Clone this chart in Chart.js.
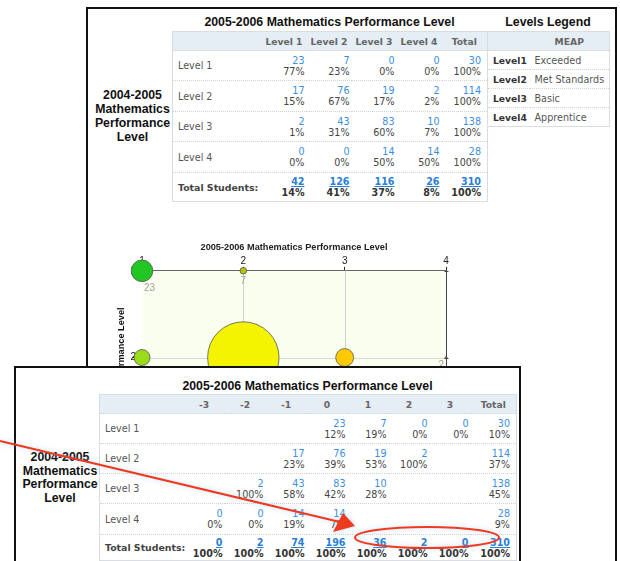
<!DOCTYPE html>
<html lang="en">
<head>
<meta charset="UTF-8">
<title>2005-2006 Mathematics Performance Level</title>
<script src="https://cdn.jsdelivr.net/npm/chart.js"></script>
<style>
  html, body { margin: 0; padding: 0; background: #fff; }
  body { position: relative; width: 620px; height: 561px; overflow: hidden; font-family: "DejaVu Sans", Verdana, sans-serif; }
  .abs { position: absolute; }
  .panel { position: absolute; box-sizing: border-box; border: 2px solid #111; background: #fff; }
  #back { left: 86px; top: 7px; width: 531px; height: 700px; z-index: 1; }
  #front { left: 14px; top: 366px; width: 507px; height: 300px; z-index: 3; }
  .lo { z-index: 2; }
  .hi { z-index: 4; }
  .ttl { font: bold 12.3px "Liberation Sans", Arial, sans-serif; color: #111; text-align: center; line-height: 16px; }
  .side { font: bold 12.3px "Liberation Sans", Arial, sans-serif; color: #111; text-align: center; }
  table.t { position: absolute; border-collapse: collapse; table-layout: fixed; border: 1px solid #d8dde3; font-size: 9.6px; color: #444; background: #fff; }
  table.t th { background: #e5edf5; color: #666; font-weight: bold; font-size: 9.2px; padding: 0; text-align: center; }
  table.t td { padding: 0 2px 0 0; text-align: right; line-height: 11px; border-top: 1px dotted #d2d2d2; vertical-align: middle; white-space: nowrap; }
  table.t td.lbl { text-align: left; padding-left: 5px; color: #555; }
  table.t td.tot { font-weight: bold; color: #444; font-size: 9.4px; }
  table.t td.last { padding-right: 6px; }
  .n { color: #3a8fe2; }
  .u { color: #2a7fd6; text-decoration: underline; font-weight: bold; }
  .b { font-weight: bold; color: #333; }
  table.t td.key { font-weight: bold; color: #333; font-size: 9.2px; }
  table.t td.meap { text-align: left; color: #555; padding-left: 5px; }
  #chartBox { position: absolute; left: 100px; top: 231px; width: 386px; height: 340px; z-index: 2; }
  #arrow { position: absolute; left: 0; top: 0; z-index: 5; }
</style>
</head>
<body>
<div class="panel" id="back"></div>
<div class="panel" id="front"></div>

<div class="abs ttl lo" style="left:172px;top:14px;width:315px;">2005-2006 Mathematics Performance Level</div>
<div class="abs side lo" style="left:92px;top:88px;width:81px;line-height:14px;">2004-2005<br>Mathematics<br>Performance<br>Level</div>
<table class="t lo" id="topTable" style="left:172px;top:31px;width:315px;"></table>

<div class="abs ttl lo" style="left:487px;top:14px;width:122px;">Levels Legend</div>
<table class="t lo" id="legendTable" style="left:487px;top:31px;width:122px;"></table>

<div id="chartBox"><canvas id="bubbleChart"></canvas></div>

<div class="abs ttl hi" style="left:99px;top:378px;width:417px;">2005-2006 Mathematics Performance Level</div>
<div class="abs side hi" style="left:19px;top:451px;width:82px;line-height:13.5px;">2004-2005<br>Mathematics<br>Performance<br>Level</div>
<table class="t hi" id="changeTable" style="left:99px;top:394px;width:417px;"></table>

<svg id="arrow" width="620" height="561">
  <g style="filter: drop-shadow(0 0 3px rgba(140,185,235,0.55));" fill="none" stroke="#ee3a1f" stroke-width="2">
    <line x1="0" y1="441" x2="340" y2="522"/>
    <polygon points="355,526 333,532 343,513" fill="#ee3a1f" stroke="none"/>
    <ellipse cx="427" cy="537.5" rx="72" ry="10.5"/>
  </g>
</svg>

<script>
// 2004-2005 level (rows) vs 2005-2006 level (columns)
const levelNames = ['Level 1', 'Level 2', 'Level 3', 'Level 4'];
const row1Counts = [23, 7, 0, 0];
const row2Counts = [17, 76, 19, 2];
const row3Counts = [2, 43, 83, 10];
const row4Counts = [0, 0, 14, 14];
const row1Pct = [77, 23, 0, 0];
const row2Pct = [15, 67, 17, 2];
const row3Pct = [1, 31, 60, 7];
const row4Pct = [0, 0, 50, 50];
const rowTotals = [30, 114, 138, 28];
const colTotals = [42, 126, 116, 26];
const colTotalPct = [14, 41, 37, 8];
const grandTotal = 310;

// legend
const legendKeys = ['Level1', 'Level2', 'Level3', 'Level4'];
const meapNames = ['Exceeded', 'Met Standards', 'Basic', 'Apprentice'];

// change in level table
const changeCols = ['-3', '-2', '-1', '0', '1', '2', '3'];
const chg1Counts = [null, null, null, 23, 7, 0, 0];
const chg2Counts = [null, null, 17, 76, 19, 2, null];
const chg3Counts = [null, 2, 43, 83, 10, null, null];
const chg4Counts = [0, 0, 14, 14, null, null, null];
const chg1Pct = [null, null, null, 12, 19, 0, 0];
const chg2Pct = [null, null, 23, 39, 53, 100, null];
const chg3Pct = [null, 100, 58, 42, 28, null, null];
const chg4Pct = [0, 0, 19, 7, null, null, null];
const chgRowTotals = [30, 114, 138, 28];
const chgRowPct = [10, 37, 45, 9];
const chgColTotals = [0, 2, 74, 196, 36, 2, 0];
const chgColPct = [100, 100, 100, 100, 100, 100, 100];

const cell = (n, p, cls) =>
    n === null ? `<td class="${cls || ''}"></td>`
               : `<td class="${cls || ''}"><span class="n">${n}</span><br>${p}%</td>`;
const totCell = (n, p, cls) =>
    `<td class="${cls || ''}"><span class="u">${n}</span><br><span class="b">${p}%</span></td>`;

const buildTable = (el, widths, heads, counts, pcts, rTot, rPct, cTot, cPct, rowHeights) => {
    let html = '<colgroup>' + widths.map(w => `<col style="width:${w}px">`).join('') + '</colgroup>';
    html += `<tr style="height:${rowHeights[0]}px"><th></th>` + heads.map(h => `<th>${h}</th>`).join('') + '<th>Total</th></tr>';
    counts.forEach((row, i) => {
        html += `<tr style="height:${rowHeights[i + 1]}px"><td class="lbl">${levelNames[i]}</td>`;
        html += row.map((n, j) => cell(n, pcts[i][j])).join('');
        html += cell(rTot[i], rPct[i], 'last') + '</tr>';
    });
    html += `<tr style="height:${rowHeights[5]}px"><td class="lbl tot">Total Students:</td>`;
    html += cTot.map((n, j) => totCell(n, cPct[j])).join('');
    html += totCell(grandTotal, 100, 'last') + '</tr>';
    document.getElementById(el).innerHTML = html;
};

const topCounts = [row1Counts, row2Counts, row3Counts, row4Counts];
const topPcts = [row1Pct, row2Pct, row3Pct, row4Pct];
buildTable('topTable', [89, 45, 45, 45, 45, 46], ['Level 1', 'Level 2', 'Level 3', 'Level 4'],
    topCounts, topPcts, rowTotals, [100, 100, 100, 100], colTotals, colTotalPct,
    [19, 30, 31, 30, 31, 29]);

buildTable('changeTable', [84, 41, 41, 41, 41, 41, 41, 41, 46], changeCols,
    [chg1Counts, chg2Counts, chg3Counts, chg4Counts], [chg1Pct, chg2Pct, chg3Pct, chg4Pct],
    chgRowTotals, chgRowPct, chgColTotals, chgColPct,
    [19, 30, 30, 30, 31, 26]);

let legendHtml = '<colgroup><col style="width:42px"><col style="width:80px"></colgroup>';
legendHtml += '<tr style="height:19px"><th></th><th>MEAP</th></tr>';
legendKeys.forEach((k, i) => {
    legendHtml += `<tr style="height:19px"><td class="lbl key">${k}</td><td class="meap">${meapNames[i]}</td></tr>`;
});
document.getElementById('legendTable').innerHTML = legendHtml;

// bubble chart: x = 2005-2006 level, y = 2004-2005 level, radius grows with students
const radiusPerStudent = 0.47;
const bubbleFill = [
    ['#22c622', '#b6c400', '#ffb000', '#ff8000'],
    ['#9bdc1a', '#f4f400', '#ffcb00', '#ff9a00'],
    ['#7fcc00', '#d6ec00', '#ffb400', '#ff8400'],
    ['#66bb00', '#c8e000', '#ff7400', '#ff3c00']
];

const points = [];
topCounts.forEach((row, yi) => {
    row.forEach((n, xi) => {
        if (n > 0) points.push({ x: xi + 1, y: yi + 1, r: n * radiusPerStudent, n: n });
    });
});

const plotBackdrop = {
    id: 'plotBackdrop',
    beforeDatasetsDraw(chart) {
        const { ctx, chartArea: a, scales: { x, y } } = chart;
        ctx.save();
        ctx.fillStyle = '#f9feee';
        ctx.fillRect(a.left, a.top, a.width, a.height);
        ctx.lineWidth = 1;
        ctx.strokeStyle = '#cfcfcf';
        x.ticks.forEach(t => {
            const px = Math.round(x.getPixelForValue(t.value)) + 0.5;
            if (px > a.left + 2 && px < a.right - 2) {
                ctx.beginPath(); ctx.moveTo(px, a.top); ctx.lineTo(px, a.bottom); ctx.stroke();
            }
        });
        ctx.strokeStyle = '#d8d8d8';
        y.ticks.forEach(t => {
            const py = Math.round(y.getPixelForValue(t.value)) + 0.5;
            if (py > a.top + 2 && py < a.bottom - 2) {
                ctx.beginPath(); ctx.moveTo(a.left, py); ctx.lineTo(a.right, py); ctx.stroke();
            }
        });
        ctx.restore();
    },
    afterDatasetsDraw(chart) {
        const { ctx, chartArea: a, scales: { y } } = chart;
        ctx.save();
        // right edge with small ticks
        ctx.strokeStyle = '#444';
        ctx.lineWidth = 1;
        const rx = Math.round(a.right) + 0.5;
        ctx.beginPath(); ctx.moveTo(rx, a.top); ctx.lineTo(rx, a.bottom); ctx.stroke();
        y.ticks.forEach(t => {
            const py = Math.round(y.getPixelForValue(t.value)) + 0.5;
            ctx.beginPath(); ctx.moveTo(rx - 2, py); ctx.lineTo(rx + 2, py); ctx.stroke();
        });
        // student counts under each bubble
        ctx.font = '10px "Liberation Sans", Arial, sans-serif';
        ctx.fillStyle = '#a0a0a0';
        ctx.textBaseline = 'middle';
        chart.getDatasetMeta(0).data.forEach((el, i) => {
            const p = points[i];
            let tx = el.x;
            ctx.textAlign = 'center';
            if (p.x === 1) { tx = el.x + 2; ctx.textAlign = 'left'; }
            if (p.x === 4) { tx = el.x - 2; ctx.textAlign = 'right'; }
            ctx.fillText(p.n, tx, el.y + p.r + 7);
        });
        ctx.restore();
    }
};

new Chart(document.getElementById('bubbleChart'), {
    type: 'bubble',
    data: {
        datasets: [{
            data: points,
            clip: false,
            backgroundColor: ctx => ctx.raw ? bubbleFill[ctx.raw.y - 1][ctx.raw.x - 1] : '#ccc',
            borderColor: '#555',
            borderWidth: 0.8
        }]
    },
    options: {
        responsive: true,
        maintainAspectRatio: false,
        animation: false,
        layout: { padding: { left: 0, right: 40, top: 0, bottom: 40 } },
        plugins: {
            legend: { display: false },
            tooltip: { enabled: false },
            title: {
                display: true,
                fullSize: false,
                text: '2005-2006 Mathematics Performance Level',
                color: '#222',
                font: { family: '"Liberation Sans", Arial, sans-serif', size: 9.2, weight: 'bold' },
                padding: { top: 10.5, bottom: 0 }
            }
        },
        scales: {
            x: {
                type: 'linear',
                position: 'top',
                min: 1,
                max: 4,
                z: 1,
                afterFit: s => { s.height = 17.5; },
                ticks: { stepSize: 1, padding: 0, color: '#222', font: { family: '"Liberation Sans", Arial, sans-serif', size: 10 } },
                grid: { drawOnChartArea: false, drawTicks: true, tickLength: 4, color: '#333' },
                border: { color: '#444' }
            },
            y: {
                type: 'linear',
                position: 'left',
                reverse: true,
                min: 1,
                max: 4,
                z: 1,
                afterFit: s => { s.width = 42; },
                ticks: { stepSize: 1, padding: -4, color: '#222', font: { family: '"Liberation Sans", Arial, sans-serif', size: 10 } },
                grid: { drawOnChartArea: false, drawTicks: true, tickLength: 10, color: '#111' },
                border: { color: '#000' },
                title: {
                    display: true,
                    text: '2004-2005 Mathematics Performance Level',
                    color: '#111',
                    font: { family: '"Liberation Sans", Arial, sans-serif', size: 9.2, weight: 'bold' },
                    padding: { top: 16, bottom: 0 }
                }
            }
        }
    },
    plugins: [plotBackdrop]
});
</script>
</body>
</html>
